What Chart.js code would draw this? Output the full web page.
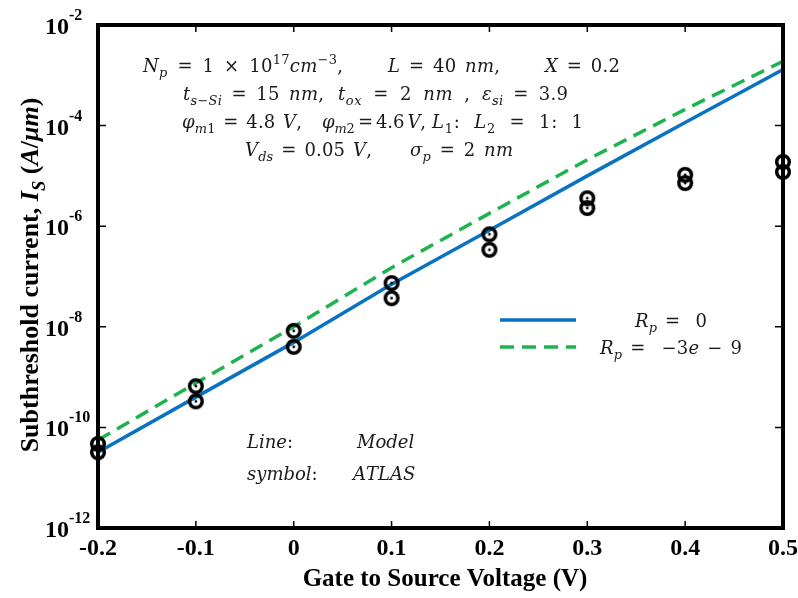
<!DOCTYPE html>
<html>
<head>
<meta charset="utf-8">
<script src="https://cdn.jsdelivr.net/npm/chart.js@4.4.1/dist/chart.umd.min.js"></script>
<style>
  html, body { margin: 0; padding: 0; background: #fff; }
  #wrap { width: 798px; height: 598px; }
</style>
</head>
<body>
<div id="wrap"><canvas id="chart" width="798" height="598"></canvas></div>
<script>
// values
const gateVoltage = [-0.2, -0.1, 0, 0.1, 0.2, 0.3, 0.4, 0.5];
const modelRp0 = [3.2e-11, 4.0e-10, 4.9e-9, 7.0e-8, 8.3e-7, 1.0e-5, 1.15e-4, 1.3e-3];
const modelRpNeg = [5.6e-11, 7.6e-10, 1.0e-8, 1.5e-7, 1.8e-6, 2.1e-5, 2.1e-4, 1.9e-3];
const atlasUpper = [4.7e-11, 6.6e-10, 8.3e-9, 7.4e-8, 6.9e-7, 3.6e-6, 1.05e-5, 1.9e-5];
const atlasLower = [3.2e-11, 3.3e-10, 4.0e-9, 3.7e-8, 3.4e-7, 2.3e-6, 7.2e-6, 1.2e-5];
const xTicks = [-0.2, -0.1, 0, 0.1, 0.2, 0.3, 0.4, 0.5];
const yTickExponents = [-12, -10, -8, -6, -4, -2];

const seriesLabels = ['R_{p} =  0', 'R_{p} =  −3e − 9'];

// text inside the plot: start x, end x (0 = natural width), baseline, markup
const notes = [
  [143, 343, 72, 'N_{p} = 1 × 10^{17}cm^{−3},'],
  [388, 500, 72, 'L = 40 nm,'],
  [545, 620, 72, 'X = 0.2'],
  [183, 324, 100, 't_{s−Si} = 15 nm,'],
  [338, 470, 100, 't_{ox} = 2 nm ,'],
  [482, 568, 100, 'ε_{si} = 3.9'],
  [182, 302, 128, 'φ_{m1} = 4.8 V,'],
  [322, 426, 128, 'φ_{m2} = 4.6 V,'],
  [432, 583, 128, 'L_{1}: L_{2} = 1: 1'],
  [245, 372, 156, 'V_{ds} = 0.05 V,'],
  [410, 513, 156, 'σ_{p} = 2 nm'],
  [247, 0, 448, 'Line:'],
  [357, 0, 448, 'Model'],
  [247, 0, 480, 'symbol:'],
  [353, 0, 480, 'ATLAS'],
];
const legendSpans = [[635, 707], [600, 742]];

const MATH_FONT = '"DejaVu Serif"';
const BOLD_FONT = '"Liberation Serif"';

function parseMath(src) {
  const runs = [];
  let i = 0;
  while (i < src.length) {
    const c = src[i];
    if ((c === '_' || c === '^') && src[i + 1] === '{') {
      const end = src.indexOf('}', i);
      runs.push({ text: src.slice(i + 2, end), lvl: c === '_' ? -1 : 1 });
      i = end + 1;
    } else {
      runs.push({ text: c, lvl: 0 });
      i++;
    }
  }
  return runs;
}

// letters italic, digits/symbols upright, _{} and ^{} shifted;
// if width is given, the difference goes mostly into the spaces
function drawMath(ctx, src, x, y, size, family, weight, width) {
  const glyphs = [];
  for (const run of parseMath(src)) {
    const fs = run.lvl ? size * 0.72 : size;
    const dy = run.lvl === -1 ? size * 0.28 : run.lvl === 1 ? -size * 0.42 : 0;
    for (const ch of run.text) {
      const ital = /[A-Za-zεφσμ]/.test(ch);
      const font = `${ital ? 'italic ' : ''}${weight || 'normal'} ${fs}px ${family}`;
      ctx.font = font;
      glyphs.push({ ch, font, dy, w: ctx.measureText(ch).width });
    }
  }
  const natural = glyphs.reduce((s, g) => s + g.w, 0);
  const spaces = glyphs.filter(g => g.ch === ' ').length;
  const gaps = Math.max(glyphs.length - 1, 1);
  const diff = width > 0 ? width - natural : 0;
  const perSpace = spaces ? (diff * 0.75) / spaces : 0;
  const perGap = (diff - perSpace * spaces) / gaps;
  let cx = x;
  glyphs.forEach(g => {
    ctx.font = g.font;
    if (g.ch !== ' ') ctx.fillText(g.ch, cx, y + g.dy);
    cx += g.w + perGap + (g.ch === ' ' ? Math.max(perSpace, -g.w * 0.6) : 0);
  });
  return natural;
}

function makeRing() {
  const c = document.createElement('canvas');
  c.width = 20; c.height = 20;
  const g = c.getContext('2d');
  g.strokeStyle = '#000';
  g.lineWidth = 3.5;
  g.beginPath(); g.arc(10, 10, 6.3, 0, Math.PI * 2); g.stroke();
  g.fillStyle = '#000';
  g.beginPath(); g.arc(10, 10, 1.4, 0, Math.PI * 2); g.fill();
  return c;
}
const ring = makeRing();

const toPoints = vals => gateVoltage.map((v, i) => ({ x: v, y: vals[i] }));

const decorPlugin = {
  id: 'decor',
  afterDraw(chart) {
    const { ctx, chartArea: a, scales } = chart;
    ctx.save();

    // frame
    ctx.strokeStyle = '#000';
    ctx.lineWidth = 4;
    ctx.strokeRect(a.left, a.top, a.right - a.left, a.bottom - a.top);

    // inward tick marks
    ctx.lineWidth = 1.5;
    ctx.beginPath();
    for (const t of scales.x.ticks) {
      const px = scales.x.getPixelForValue(t.value);
      ctx.moveTo(px, a.bottom); ctx.lineTo(px, a.bottom - 7);
      ctx.moveTo(px, a.top); ctx.lineTo(px, a.top + 7);
    }
    for (const t of scales.y.ticks) {
      const py = scales.y.getPixelForValue(t.value);
      ctx.moveTo(a.left, py); ctx.lineTo(a.left + 8, py);
      ctx.moveTo(a.right, py); ctx.lineTo(a.right - 8, py);
    }
    ctx.stroke();

    ctx.fillStyle = '#000';

    // x tick labels
    ctx.font = `bold 24px ${BOLD_FONT}`;
    ctx.textAlign = 'center';
    ctx.textBaseline = 'middle';
    for (const v of xTicks) {
      const label = v === 0 ? '0' : v.toFixed(1);
      ctx.fillText(label, scales.x.getPixelForValue(v), 549);
    }

    // y tick labels 10^n
    ctx.textAlign = 'left';
    ctx.textBaseline = 'alphabetic';
    for (const e of yTickExponents) {
      const py = scales.y.getPixelForValue(Math.pow(10, e));
      ctx.font = `bold 24px ${BOLD_FONT}`;
      ctx.fillText('10', 45, py + 9);
      const w = ctx.measureText('10').width;
      ctx.font = `bold 16px ${BOLD_FONT}`;
      ctx.fillText('-' + Math.abs(e), 45 + w, py - 5);
    }

    // x title
    ctx.font = `bold 25px ${BOLD_FONT}`;
    ctx.textAlign = 'center';
    ctx.textBaseline = 'middle';
    ctx.fillText('Gate to Source Voltage (V)', 445, 580);

    // y title (rotated)
    ctx.save();
    ctx.translate(38, 275);
    ctx.rotate(-Math.PI / 2);
    ctx.textAlign = 'left';
    ctx.textBaseline = 'alphabetic';
    const head = 'Subthreshold current, ';
    ctx.font = `bold 26px ${BOLD_FONT}`;
    const hw = ctx.measureText(head).width;
    ctx.globalAlpha = 0;
    const tw = drawMath(ctx, 'I_{S} (A/μm)', 0, 0, 26, BOLD_FONT, 'bold');
    ctx.globalAlpha = 1;
    const x0 = -(hw + tw) / 2;
    ctx.font = `bold 26px ${BOLD_FONT}`;
    ctx.fillText(head, x0, 0);
    drawMath(ctx, 'I_{S} (A/μm)', x0 + hw, 0, 26, BOLD_FONT, 'bold');
    ctx.restore();

    // annotations
    ctx.fillStyle = '#1a1a1a';
    ctx.textAlign = 'left';
    ctx.textBaseline = 'alphabetic';
    for (const [x1, x2, by, txt] of notes) drawMath(ctx, txt, x1, by, 18, MATH_FONT, 'normal', x2 ? x2 - x1 : 0);

    // legend
    const lines = chart.data.datasets.filter(d => d.isModel);
    const legY = [320, 347];
    lines.forEach((d, i) => {
      ctx.strokeStyle = d.borderColor;
      ctx.lineWidth = d.borderWidth;
      ctx.setLineDash(d.borderDash || []);
      ctx.beginPath();
      ctx.moveTo(500, legY[i]); ctx.lineTo(576, legY[i]);
      ctx.stroke();
      ctx.setLineDash([]);
      ctx.fillStyle = '#1a1a1a';
      const [s1, s2] = legendSpans[i];
      drawMath(ctx, seriesLabels[i], s1, legY[i] + 7, 18, MATH_FONT, 'normal', s2 - s1);
    });

    ctx.restore();
  }
};

new Chart(document.getElementById('chart'), {
  type: 'line',
  data: {
    datasets: [
      { label: 'ATLAS a', data: toPoints(atlasUpper), showLine: false, pointStyle: ring, pointRadius: 8, clip: false, order: 0 },
      { label: 'ATLAS b', data: toPoints(atlasLower), showLine: false, pointStyle: ring, pointRadius: 8, clip: false, order: 0 },
      { label: 'Rp = 0', isModel: true, data: toPoints(modelRp0), borderColor: '#0a72c2', borderWidth: 3.5, pointRadius: 0, tension: 0, order: 2 },
      { label: 'Rp = -3e-9', isModel: true, data: toPoints(modelRpNeg), borderColor: '#1db34f', borderWidth: 3.5, borderDash: [14, 8], pointRadius: 0, tension: 0, order: 1 },
    ]
  },
  options: {
    responsive: false,
    animation: false,
    layout: { padding: { top: 25, right: 15, left: 0, bottom: 0 } },
    scales: {
      x: {
        type: 'linear', min: -0.2, max: 0.5,
        afterBuildTicks: s => { s.ticks = xTicks.map(v => ({ value: v })); },
        afterFit: s => { s.height = 70; },
        grid: { display: false, drawTicks: false },
        border: { display: false },
        ticks: { display: false }
      },
      y: {
        type: 'logarithmic', min: 1e-12, max: 1e-2,
        afterBuildTicks: s => { s.ticks = yTickExponents.map(e => ({ value: Math.pow(10, e) })); },
        afterFit: s => { s.width = 98; },
        grid: { display: false, drawTicks: false },
        border: { display: false },
        ticks: { display: false }
      }
    },
    plugins: { legend: { display: false }, tooltip: { enabled: false } }
  },
  plugins: [decorPlugin]
});
</script>
</body>
</html>
